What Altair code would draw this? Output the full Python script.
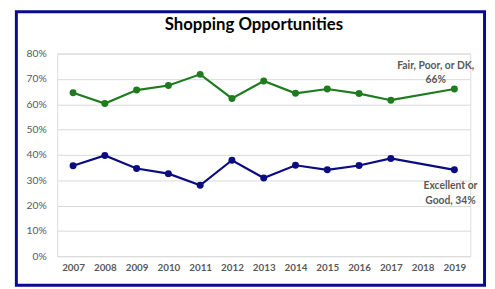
import altair as alt
import pandas as pd

years = ["2007", "2008", "2009", "2010", "2011", "2012", "2013", "2014", "2015", "2016", "2017", "2018", "2019"]
fair_poor_dk = [64.5, 60.3, 65.6, 67.4, 71.8, 62.3, 69.2, 64.3, 66.0, 64.2, 61.6, None, 66.0]
excellent_good = [35.7, 39.8, 34.6, 32.6, 28.0, 37.9, 30.9, 35.9, 34.1, 35.8, 38.6, None, 34.1]
series_names = ["Fair, Poor, or DK", "Excellent or Good"]
series_colors = ["#1E7B1E", "#0B0B82"]
y_ticks = [0, 0.1, 0.2, 0.3, 0.4, 0.5, 0.6, 0.7, 0.8]

rows = []
for name, vals in zip(series_names, [fair_poor_dk, excellent_good]):
    for y, v in zip(years, vals):
        if v is not None:
            rows.append({"year": y, "value": v / 100.0, "series": name})
df = pd.DataFrame(rows)

labels = pd.DataFrame([
    {"year": "2019", "value": fair_poor_dk[-1] / 100.0, "series": series_names[0],
     "text": ["Fair, Poor, or DK,", f"{round(fair_poor_dk[-1])}%"]},
    {"year": "2019", "value": excellent_good[-1] / 100.0, "series": series_names[1],
     "text": ["Excellent or", f"Good, {round(excellent_good[-1])}%"]},
])

x_enc = alt.X("year:O", scale=alt.Scale(domain=years, type="point", padding=0.5),
              axis=alt.Axis(title=None, labelAngle=0, domain=False, ticks=False,
                            labelFontWeight="bold", labelPadding=7, labelFontSize=10,
                            labelColor="#595959", labelFont="Lato", labelOverlap=False))
y_enc = alt.Y("value:Q", scale=alt.Scale(domain=[0, 0.8]),
              axis=alt.Axis(title=None, format=".0%", values=y_ticks,
                            domain=False, ticks=False, labelPadding=11, labelFontSize=10.5,
                            labelColor="#595959", labelFont="Lato", labelOverlap=False,
                            gridColor="#D9D9D9", gridWidth=1))
color_enc = alt.Color("series:N", scale=alt.Scale(domain=series_names, range=series_colors), legend=None)

base = alt.Chart(df)
lines = base.mark_line(strokeWidth=2.2).encode(x=x_enc, y=y_enc, color=color_enc, detail="series:N")
points = base.mark_circle(size=50, opacity=1).encode(x=x_enc, y=y_enc, color=color_enc)

lab_top = alt.Chart(labels).transform_filter(alt.datum.series == series_names[0]).mark_text(
    font="Lato", fontSize=10.5, fontWeight="bold", color="#595959", align="center",
    baseline="bottom", dx=-19, dy=-18, lineHeight=14
).encode(x=x_enc, y=y_enc, text="text")
lab_bot = alt.Chart(labels).transform_filter(alt.datum.series == series_names[1]).mark_text(
    font="Lato", fontSize=10.5, fontWeight="bold", color="#595959", align="center",
    baseline="top", dx=-4, dy=11, lineHeight=16
).encode(x=x_enc, y=y_enc, text="text")

frame = alt.Chart(pd.DataFrame({"k": [0]})).mark_rect(
    fill=None, stroke="#0A0A8C", strokeWidth=3
).encode(x=alt.value(-41.5), x2=alt.value(434.5), y=alt.value(-42.5), y2=alt.value(235.5))

chart = alt.layer(lines, points, lab_top, lab_bot, frame).properties(
    width=420, height=206,
    title=alt.TitleParams("Shopping Opportunities", font="Lato", fontSize=17, fontWeight="bold",
                          color="#000000", anchor="middle", frame="group", dx=-10, dy=37,
                          offset=0, baseline="alphabetic"),
    padding={"left": 50, "top": 44, "right": 17, "bottom": 31},
    autosize=alt.AutoSizeParams(type="none"),
).configure_view(stroke=None).configure(background="white")

chart.save("out.html", embed_options={"renderer": "svg", "actions": False})
